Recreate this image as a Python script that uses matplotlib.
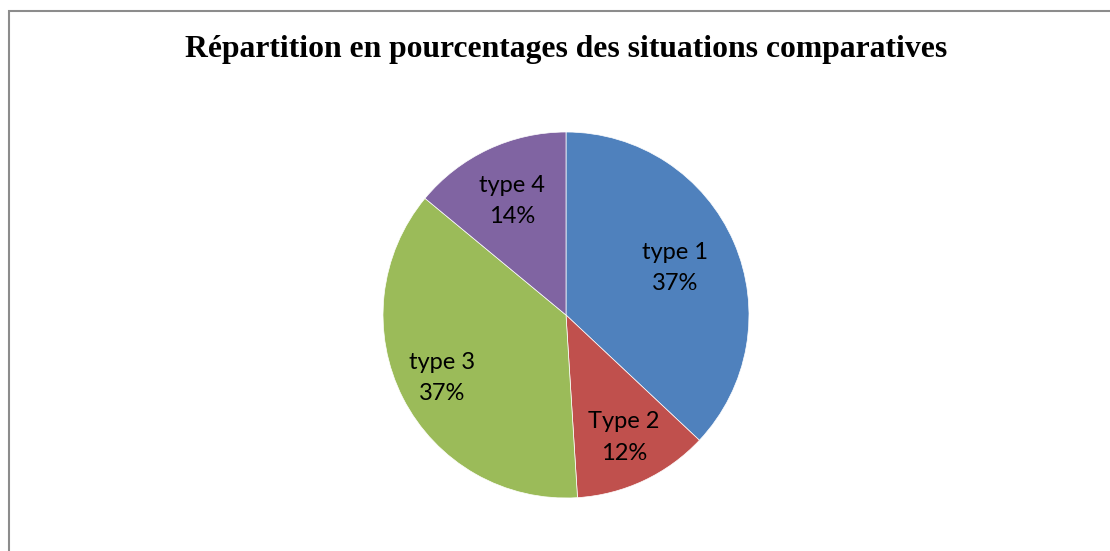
import numpy as np
import matplotlib.pyplot as plt
from matplotlib.patches import Rectangle

labels = ['type 1', 'Type 2', 'type 3', 'type 4']
values = [37, 12, 37, 14]
colors = ['#4F81BD', '#C0504D', '#9BBB59', '#8064A2']

# how far from the centre each label sits (fraction of radius)
label_dist = [0.65, 0.74, 0.76, 0.69]

fig = plt.figure(figsize=(11.1, 5.51), dpi=100)

# outer chart frame (runs off the right and bottom edge like the original)
fig.patches.append(Rectangle((8.5 / 1110, -0.05), 1.2, 1 + 0.05 - 11.5 / 551,
                             transform=fig.transFigure, fill=False,
                             edgecolor='#8c8c8c', linewidth=1.5))

fig.text(566 / 1110, 1 - 50 / 551, 'Répartition en pourcentages des situations comparatives',
         ha='center', va='center', fontsize=22.8, fontweight='bold',
         family='Liberation Serif')

ax = fig.add_axes([(566 - 183) / 1110, (551 - 498) / 551, 366 / 1110, 366 / 551])
wedges, texts = ax.pie(values, colors=colors, startangle=90, counterclock=False,
                       labels=[f'{n}\n{v}%' for n, v in zip(labels, values)],
                       labeldistance=0.7, radius=1,
                       wedgeprops=dict(edgecolor='white', linewidth=0.5),
                       textprops=dict(fontsize=17, family='Lato', linespacing=1.6))
for w, t, d in zip(wedges, texts, label_dist):
    ang = np.deg2rad((w.theta1 + w.theta2) / 2)
    t.set_position((d * np.cos(ang), d * np.sin(ang)))
    t.set_horizontalalignment('center')
ax.set_xlim(-1, 1)
ax.set_ylim(-1, 1)
ax.set_aspect('equal')

fig.savefig('out.png', dpi=100)
